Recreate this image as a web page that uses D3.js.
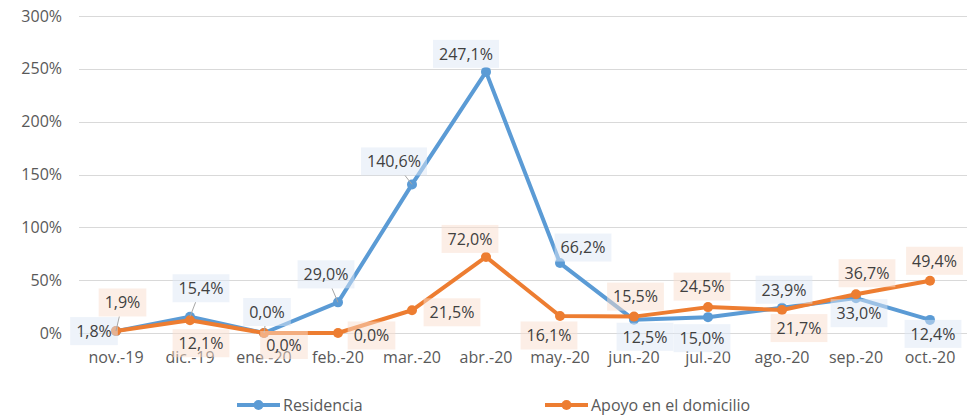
<!DOCTYPE html>
<html><head><meta charset="utf-8">
<script src="https://cdn.jsdelivr.net/npm/d3@7"></script>
<style>body{margin:0;background:#fff}svg{display:block;font-family:"Open Sans","Noto Sans",sans-serif}</style>
</head><body><svg id="c" width="973" height="416"></svg>
<script>
const categories = ["nov.-19","dic.-19","ene.-20","feb.-20","mar.-20","abr.-20","may.-20","jun.-20","jul.-20","ago.-20","sep.-20","oct.-20"];
const residencia = [1.8,15.4,0.0,29.0,140.6,247.1,66.2,12.5,15.0,23.9,33.0,12.4];
const apoyo = [1.9,12.1,0.0,0.0,21.5,72.0,16.1,15.5,24.5,21.7,36.7,49.4];
const yTicks = [0,50,100,150,200,250,300];
const seriesNames = ["Residencia","Apoyo en el domicilio"];

// label placement (offset of label centre from point, px) and leader flags
const resLabelOffset = [[-22,0],[11,-28.5],[3,-21],[-12,-28],[-18,-23],[-20,-18],[23,-15.5],[11,17],[-6,21],[2,-18],[3,15],[3,14]];
const apoLabelOffset = [[6.5,-28.5],[11,23],[20,12],[33.5,2.5],[40,2],[-16,-18],[-11,19.5],[1.5,-20],[-6,-20.5],[17,18],[11,-21],[4.5,-20]];
const resLeader = [false,true,true,true,true,false,false,false,false,false,false,false];
const apoLeader = [true,false,false,false,false,false,false,false,false,false,false,false];

const FONT = "Open Sans";
const svg = d3.select("#c");
const x = d3.scaleBand().domain(categories).range([79,967]);
const y = d3.scaleLinear().domain([0,300]).range([333,16]);
const cx = c => x(c) + x.bandwidth()/2;

// grid
svg.append("g").selectAll("line").data(yTicks).join("line")
  .attr("x1",79).attr("x2",967).attr("y1",d=>Math.round(y(d))+0.5).attr("y2",d=>Math.round(y(d))+0.5)
  .attr("stroke","#d9d9d9").attr("stroke-width",1);
// y labels
const yAxis = d3.axisLeft(y).tickValues(yTicks).tickFormat(d=>d+"%").tickSize(0).tickPadding(0);
const ya = svg.append("g").attr("transform","translate(62,0)").call(yAxis);
ya.select(".domain").remove();
ya.selectAll("text").attr("font-size",16).attr("fill","#595959").attr("font-family",FONT);
// x labels
const xAxis = d3.axisBottom(x).tickSize(0).tickPadding(0);
const xa = svg.append("g").attr("transform","translate(0,352)").call(xAxis);
xa.select(".domain").remove();
xa.selectAll("text").attr("font-size",16).attr("fill","#595959").attr("font-family",FONT);

const colors = ["#5B9BD5","#ED7D31"];
const line = d3.line().x((d,i)=>cx(categories[i])).y(d=>y(d));
[residencia, apoyo].forEach((s,k)=>{
  svg.append("path").datum(s).attr("d",line).attr("fill","none")
    .attr("stroke",colors[k]).attr("stroke-width",4).attr("stroke-linejoin","round");
  svg.append("g").selectAll("circle").data(s).join("circle")
    .attr("cx",(d,i)=>cx(categories[i])).attr("cy",d=>y(d)).attr("r",5).attr("fill",colors[k]);
});

const fmt = v => v.toFixed(1).replace(".",",")+"%";
const bgs = ["#DDE7F5","#F9DDCD"];
function labels(s, offs, leaders, k){
  const g = svg.append("g");
  s.forEach((v,i)=>{
    const px = cx(categories[i]), py = y(v);
    const lx = px + offs[i][0], ly = py + offs[i][1];
    const t = g.append("text").attr("x",lx).attr("y",ly).attr("dy","0.36em")
      .attr("text-anchor","middle").attr("font-size",16).attr("font-family",FONT).attr("fill","#404040").text(fmt(v));
    const bb = t.node().getBBox();
    const w = bb.width + 12, h = 28;
    if (leaders[i]) {
      const dx = px - lx, dy = py - ly;
      const sx = dx===0?Infinity:(w/2)/Math.abs(dx), sy = dy===0?Infinity:(h/2)/Math.abs(dy);
      const s2 = Math.min(sx,sy);
      if (s2 < 1) {
        g.insert("line","text").attr("x1",px).attr("y1",py).attr("x2",lx+dx*s2).attr("y2",ly+dy*s2)
          .attr("stroke","#a6a6a6").attr("stroke-width",1);
      }
    }
    g.insert("rect","text").attr("x",lx-w/2).attr("y",ly-h/2).attr("width",w).attr("height",h)
      .attr("fill",bgs[k]).attr("fill-opacity",0.5);
  });
}
labels(residencia, resLabelOffset, resLeader, 0);
labels(apoyo, apoLabelOffset, apoLeader, 1);

// legend
const lg = svg.append("g");
const legX = [237,545];
seriesNames.forEach((n,k)=>{
  lg.append("line").attr("x1",legX[k]).attr("x2",legX[k]+43).attr("y1",405).attr("y2",405)
    .attr("stroke",colors[k]).attr("stroke-width",4);
  lg.append("circle").attr("cx",legX[k]+21.5).attr("cy",405).attr("r",5).attr("fill",colors[k]);
  lg.append("text").attr("x",legX[k]+46).attr("y",405).attr("dy","0.36em")
    .attr("font-size",16).attr("font-family",FONT).attr("fill","#595959").text(n);
});
</script></body></html>
